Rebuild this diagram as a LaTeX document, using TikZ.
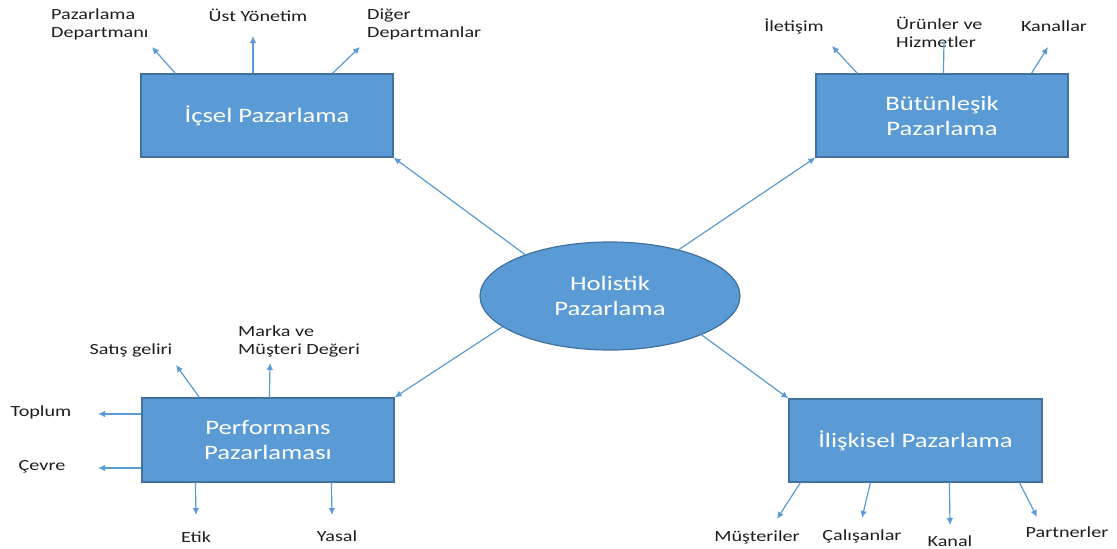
\documentclass[tikz,border=0pt]{standalone}
\usepackage{fontspec}
\setmainfont{Carlito}[FakeStretch=1.3]
\usetikzlibrary{arrows.meta,shapes.geometric}
\definecolor{boxblue}{HTML}{5B9BD5}
\definecolor{boxedge}{HTML}{41719C}
\definecolor{arrowblue}{HTML}{5B9BD5}
\definecolor{labelgray}{HTML}{1E1E1E}
\begin{document}
\begin{tikzpicture}[x=1pt,y=-1pt,
  mainbox/.style={draw=boxedge, fill=boxblue, line width=1.2pt, inner sep=0pt,
    text=white, font=\fontsize{20.5}{25}\selectfont, align=center},
  lbl/.style={text=labelgray, font=\fontsize{15.5}{18}\selectfont, inner sep=0pt, align=center},
  conn/.style={draw=arrowblue, line width=1.2pt, -{Latex[length=7pt,width=6.5pt]}},
  plainconn/.style={draw=arrowblue, line width=1.2pt}]
\useasboundingbox (0,0) rectangle (1117,549);

% main shapes
\node[mainbox, ellipse, minimum width=260pt, minimum height=108pt] (holo) at (610,296) {Holistik\\Pazarlama};
\node[mainbox, minimum width=252pt, minimum height=83pt] (icsel) at (267,115.5) {İçsel Pazarlama};
\node[mainbox, minimum width=252pt, minimum height=83pt] (butun) at (942,115.5) {Bütünleşik\\Pazarlama};
\node[mainbox, minimum width=252pt, minimum height=84pt] (perf) at (268,440) {Performans\\Pazarlaması};
\node[mainbox, minimum width=253pt, minimum height=83pt] (iliski) at (915.5,440.5) {İlişkisel Pazarlama};

% center connectors
\draw[conn] (holo.154.7) -- (icsel.south east);
\draw[conn] (holo.34.9) -- (butun.south west);
\draw[conn] (holo.196.5) -- (perf.north east);
\draw[conn] (holo.337.3) -- (iliski.north west);

% İçsel
\node[lbl, anchor=west, align=left] (pazdep) at (51,24) {Pazarlama\\Departmanı};
\node[lbl] (ust) at (258,15) {Üst Yönetim};
\node[lbl, anchor=west, align=left] (diger) at (367,24) {Diğer\\Departmanlar};
\coordinate (t1) at (152,47);
\coordinate (t2) at (253,36);
\coordinate (t3) at (360,47);
\draw[conn] ([xshift=35pt]icsel.north west) -- (t1);
\draw[conn] ([xshift=-14pt]icsel.north) -- (t2);
\draw[conn] ([xshift=192pt]icsel.north west) -- (t3);

% Bütünleşik
\node[lbl] (iletisim) at (794,26) {İletişim};
\node[lbl, anchor=west, align=left] (urun) at (896,32) {Ürünler ve\\Hizmetler};
\node[lbl] (kanallar) at (1054,26) {Kanallar};
\coordinate (t4) at (832,46);
\coordinate (t5) at (944,42);
\coordinate (t6) at (1048,47);
\draw[conn] ([xshift=42pt]butun.north west) -- (t4);
\draw[plainconn] ([xshift=128pt]butun.north west) -- (t5);
\draw[conn] ([xshift=216pt]butun.north west) -- (t6);

% Performans
\node[lbl] (satis) at (131,350) {Satış geliri};
\node[lbl, anchor=west, align=left] (marka) at (238,341) {Marka ve\\Müşteri Değeri};
\node[lbl] (toplum) at (41,412) {Toplum};
\node[lbl] (cevre) at (42,467) {Çevre};
\node[lbl] (etik) at (196,537) {Etik};
\node[lbl] (yasal) at (337,536) {Yasal};
\coordinate (t7) at (176,365);
\coordinate (t8) at (270,363);
\coordinate (t9) at (98,414);
\coordinate (t10) at (98,468);
\coordinate (t11) at (196,515);
\coordinate (t12) at (332,515);
\draw[conn] ([xshift=58pt]perf.north west) -- (t7);
\draw[conn] ([xshift=128pt]perf.north west) -- (t8);
\draw[conn] (perf.west |- t9) -- (t9);
\draw[conn] (perf.west |- t10) -- (t10);
\draw[conn] ([xshift=54pt]perf.south west) -- (t11);
\draw[conn] ([xshift=190pt]perf.south west) -- (t12);

% İlişkisel
\node[lbl] (musteri) at (757,537) {Müşteriler};
\node[lbl] (calisan) at (862,536) {Çalışanlar};
\node[lbl] (kanal) at (950,541) {Kanal};
\node[lbl] (partner) at (1067,532) {Partnerler};
\coordinate (t13) at (777,519);
\coordinate (t14) at (862,518);
\coordinate (t15) at (950,525);
\coordinate (t16) at (1037,517);
\draw[conn] ([xshift=12pt]iliski.south west) -- (t13);
\draw[conn] ([xshift=82pt]iliski.south west) -- (t14);
\draw[conn] ([xshift=161pt]iliski.south west) -- (t15);
\draw[conn] ([xshift=231pt]iliski.south west) -- (t16);
\end{tikzpicture}
\end{document}
